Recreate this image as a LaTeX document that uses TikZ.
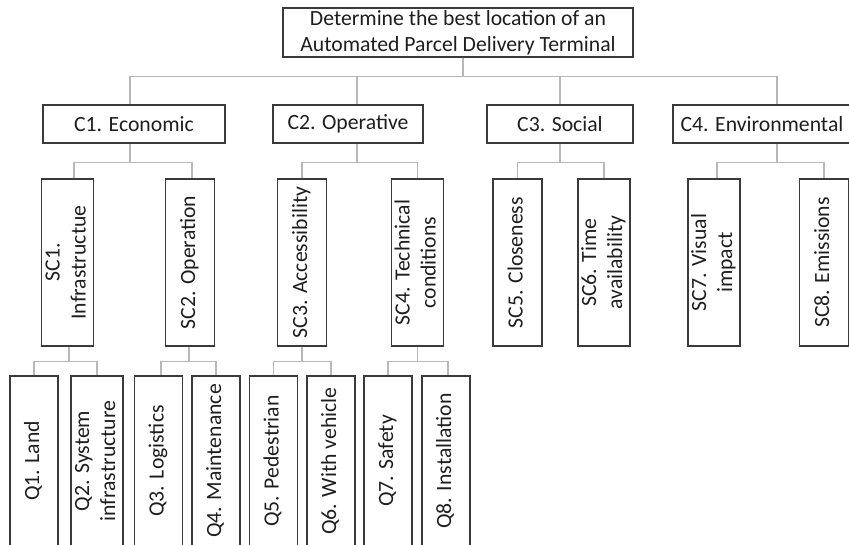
\documentclass[tikz,border=0pt]{standalone}
\usepackage{fontspec}
\setmainfont{Carlito}
\definecolor{boxc}{HTML}{3A3A3A}
\definecolor{linkc}{HTML}{B8B8B8}
\definecolor{txtc}{HTML}{1E1E1E}
\newcommand{\diagfont}{\fontsize{21.7}{26}\selectfont}
\newcommand{\vtext}[1]{\rotatebox{90}{\begin{tabular}{@{}c@{}}#1\end{tabular}}}
\begin{document}
\begin{tikzpicture}[x=1pt,y=-1pt,
  box/.style={draw=boxc, line width=1.2pt, inner sep=0pt, align=center, font=\diagfont, text=txtc},
  cbox/.style={box, minimum height=38pt},
  scbox/.style={box, minimum width=49pt, minimum height=167pt},
  qbox/.style={box, minimum width=48pt, minimum height=170pt},
  link/.style={draw=linkc, line width=1.3pt},
]
\useasboundingbox (0,0) rectangle (849,544);
\clip (0,0) rectangle (849,544);
% goal
\node[box, minimum width=350pt, minimum height=49pt] (goal) at (458,32.5)
  {Determine the best location of an\\Automated Parcel Delivery Terminal};
% criteria
\node[cbox, minimum width=182pt] (c1) at (134,124) {C1. Economic};
\node[cbox, minimum width=150pt] (c2) at (348,124) {C2. Operative};
\node[cbox, minimum width=146pt] (c3) at (560,124) {C3. Social};
\node[cbox, minimum width=178pt] (c4) at (762,124) {C4. Environmental};
% sub-criteria
\node[scbox] (sc1) at (67.5,262.5) {\vtext{SC1.\\Infrastructue}};
\node[scbox] (sc2) at (190,262.5) {\vtext{SC2. Operation}};
\node[scbox] (sc3) at (302,262.5) {\vtext{SC3. Accessibility}};
\node[scbox] (sc4) at (417.5,262.5) {\vtext{SC4. Technical\\conditions}};
\node[scbox] (sc5) at (517.5,262.5) {\vtext{SC5. Closeness}};
\node[scbox] (sc6) at (604,262.5) {\vtext{SC6. Time\\availability}};
\node[scbox] (sc7) at (714,262.5) {\vtext{SC7. Visual\\impact}};
\node[scbox] (sc8) at (824,262.5) {\vtext{SC8. Emissions}};
% questions
\node[qbox] (q1) at (34,461) {\vtext{Q1. Land}};
\node[qbox] (q2) at (97,461) {\vtext{Q2. System\\infrastructure}};
\node[qbox] (q3) at (158.5,461) {\vtext{Q3. Logistics}};
\node[qbox] (q4) at (216,461) {\vtext{Q4. Maintenance}};
\node[qbox] (q5) at (273.5,461) {\vtext{Q5. Pedestrian}};
\node[qbox] (q6) at (331,461) {\vtext{Q6. With vehicle}};
\node[qbox] (q7) at (388,461) {\vtext{Q7. Safety}};
\node[qbox] (q8) at (446,461) {\vtext{Q8. Installation}};
% connectors level 1
\draw[link] ([xshift=5pt]goal.south) -- ++(0,19) -| ([xshift=-4pt]c1.north);
\draw[link] ([xshift=5pt]goal.south) -- ++(0,19) -| ([xshift=9pt]c2.north);
\draw[link] ([xshift=5pt]goal.south) -- ++(0,19) -| (c3.north);
\draw[link] ([xshift=5pt]goal.south) -- ++(0,19) -| ([xshift=15pt]c4.north);
% connectors level 2
\draw[link] ([xshift=-4pt]c1.south) -- ++(0,19) -| ([xshift=6.5pt]sc1.north);
\draw[link] ([xshift=-4pt]c1.south) -- ++(0,19) -| ([xshift=2pt]sc2.north);
\draw[link] ([xshift=9pt]c2.south) -- ++(0,19) -| (sc3.north);
\draw[link] ([xshift=9pt]c2.south) -- ++(0,19) -| (sc4.north);
\draw[link] (c3.south) -- ++(0,19) -| (sc5.north);
\draw[link] (c3.south) -- ++(0,19) -| (sc6.north);
\draw[link] ([xshift=15pt]c4.south) -- ++(0,19) -| ([xshift=3pt]sc7.north);
\draw[link] ([xshift=15pt]c4.south) -- ++(0,19) -| (sc8.north);
% connectors level 3
\draw[link] ([xshift=1.5pt]sc1.south) -- ++(0,15) -| (q1.north);
\draw[link] ([xshift=1.5pt]sc1.south) -- ++(0,15) -| (q2.north);
\draw[link] ([xshift=-1pt]sc2.south) -- ++(0,15) -| ([xshift=2.5pt]q3.north);
\draw[link] ([xshift=-1pt]sc2.south) -- ++(0,15) -| (q4.north);
\draw[link] (sc3.south) -- ++(0,15) -| (q5.north);
\draw[link] (sc3.south) -- ++(0,15) -| (q6.north);
\draw[link] (sc4.south) -- ++(0,15) -| (q7.north);
\draw[link] (sc4.south) -- ++(0,15) -| ([xshift=2pt]q8.north);
\end{tikzpicture}
\end{document}
